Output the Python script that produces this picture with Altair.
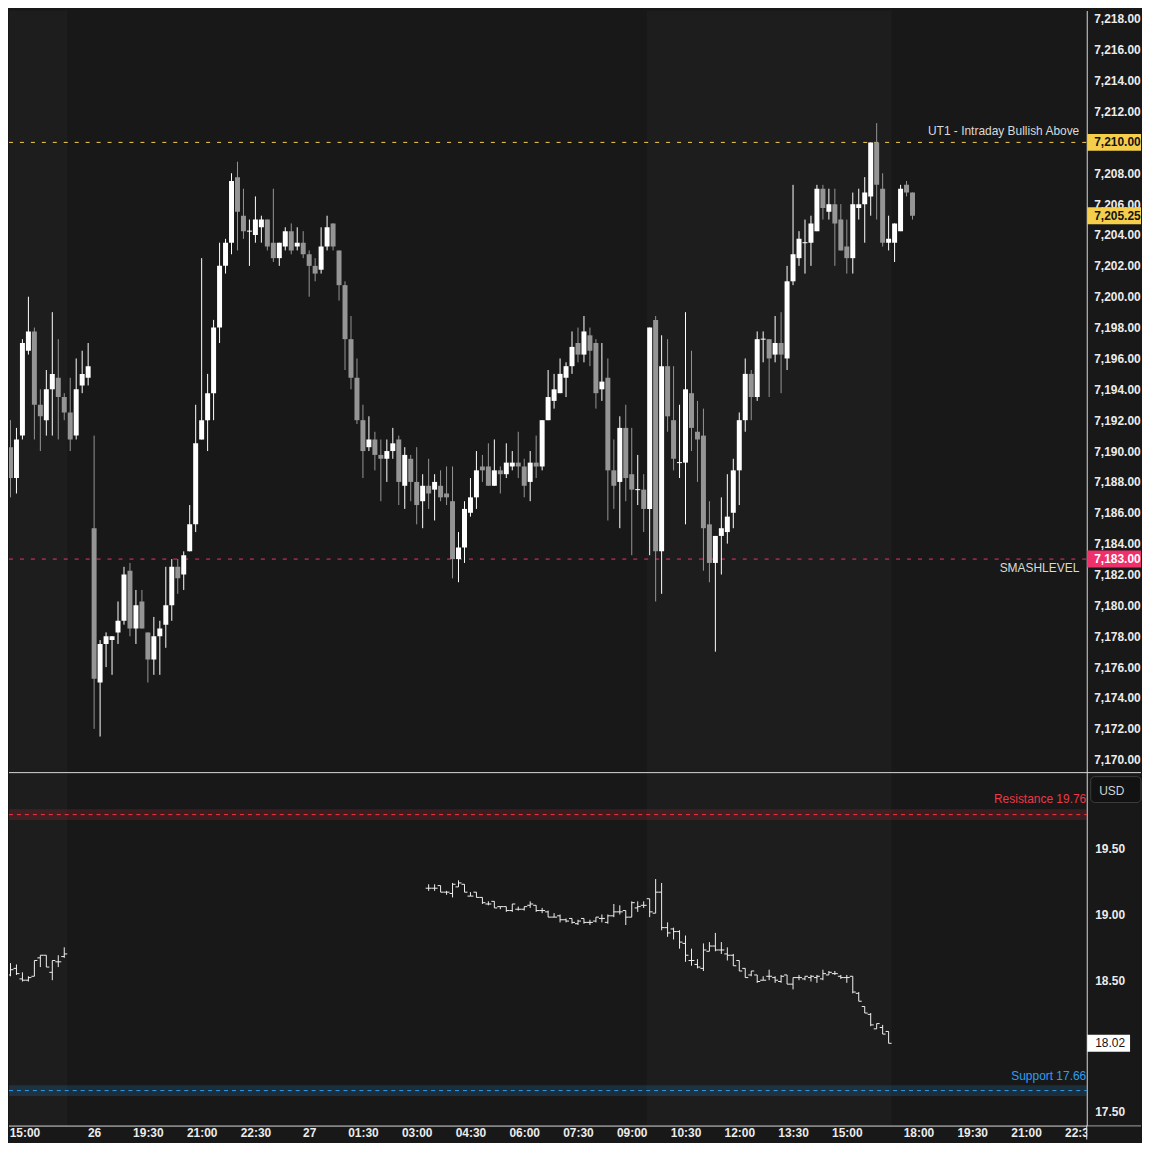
import altair as alt
import pandas as pd

# ---------------- data: 10-minute candles (index 0 = 14:30 on the 25th) ----------------
candle_open = [
    7185.5, 7190.25, 7188.25, 7191.0, 7196.5, 7197.75, 7193.0, 7192.0, 7194.0, 7194.75,
    7193.5, 7192.5, 7191.0, 7194.25, 7194.75, 7185.0, 7175.0, 7177.5, 7177.75, 7178.25,
    7179.0, 7182.25, 7178.5, 7180.25, 7178.25, 7176.5, 7178.0, 7178.75, 7180.0, 7182.5,
    7182.0, 7183.5, 7185.25, 7190.75, 7192.0, 7193.75, 7198.0, 7202.0, 7203.5, 7207.75,
    7205.25, 7204.25, 7204.0, 7204.5, 7205.0, 7203.5, 7202.5, 7203.25, 7204.25, 7203.25,
    7203.5, 7202.75, 7202.0, 7201.75, 7203.25, 7204.75, 7203.0, 7200.75, 7197.25, 7194.75,
    7192.0, 7190.25, 7190.75, 7189.75, 7189.5, 7190.0, 7190.75, 7187.75, 7189.5, 7188.0,
    7186.75, 7187.75, 7187.5, 7187.75, 7187.25, 7186.75, 7183.0, 7183.75, 7186.0, 7187.0,
    7189.0, 7189.0, 7187.75, 7188.75, 7188.5, 7189.0, 7189.25, 7189.0, 7188.0, 7189.25,
    7189.0, 7192.0, 7193.25, 7193.75, 7194.75, 7195.5, 7197.0, 7196.25, 7197.5, 7197.0,
    7194.0, 7194.75, 7188.75, 7188.0, 7191.5, 7188.5, 7187.5, 7187.5, 7186.25, 7198.5,
    7183.5, 7195.5, 7192.0, 7189.25, 7189.25, 7193.75, 7191.25, 7191.0, 7185.25, 7182.75,
    7184.5, 7184.75, 7186.0, 7188.75, 7192.0, 7195.0, 7193.5, 7197.25, 7197.25, 7196.25,
    7197.0, 7196.0, 7201.0, 7202.5, 7203.5, 7203.5, 7204.25, 7207.0, 7205.5, 7206.0,
    7205.0, 7203.25, 7202.5, 7205.75, 7206.0, 7206.5, 7210.0, 7207.0, 7203.5, 7203.5,
    7204.25, 7207.25, 7206.75,
]
candle_high = [
    7191.5, 7192.0, 7191.5, 7197.25, 7200.0, 7198.0, 7194.0, 7195.25, 7199.0, 7197.25,
    7193.75, 7194.75, 7196.0, 7196.5, 7197.0, 7191.0, 7177.75, 7178.25, 7178.0, 7180.25,
    7182.5, 7182.75, 7181.0, 7181.0, 7178.25, 7179.25, 7179.0, 7182.5, 7183.0, 7183.0,
    7183.5, 7186.5, 7193.0, 7202.5, 7195.0, 7198.5, 7203.5, 7203.75, 7208.0, 7208.75,
    7207.0, 7205.0, 7206.5, 7205.25, 7205.0, 7207.0, 7203.5, 7204.5, 7204.75, 7204.5,
    7204.25, 7203.0, 7202.5, 7204.5, 7205.25, 7204.75, 7203.0, 7201.0, 7198.75, 7196.0,
    7193.0, 7192.25, 7191.25, 7190.75, 7190.75, 7191.5, 7191.0, 7190.25, 7189.75, 7190.25,
    7188.5, 7189.5, 7188.5, 7188.75, 7189.0, 7189.0, 7184.75, 7186.75, 7188.25, 7190.0,
    7189.75, 7190.5, 7190.75, 7189.0, 7190.5, 7190.0, 7191.25, 7189.5, 7190.0, 7191.0,
    7192.0, 7195.25, 7195.0, 7196.0, 7195.75, 7197.75, 7198.0, 7198.75, 7198.0, 7197.25,
    7197.0, 7196.0, 7190.75, 7192.25, 7193.0, 7191.5, 7189.75, 7188.5, 7198.0, 7198.75,
    7197.5, 7197.25, 7195.5, 7193.0, 7199.0, 7196.5, 7193.25, 7192.75, 7186.75, 7184.5,
    7187.0, 7188.5, 7189.5, 7192.5, 7196.0, 7195.25, 7197.75, 7197.75, 7197.25, 7198.75,
    7199.0, 7202.0, 7207.25, 7204.25, 7205.0, 7205.25, 7207.25, 7207.25, 7207.0, 7207.0,
    7206.0, 7205.0, 7206.75, 7207.0, 7207.75, 7210.0, 7211.25, 7208.0, 7205.25, 7204.75,
    7207.25, 7207.5, 7206.75,
]
candle_low = [
    7185.25, 7187.0, 7187.25, 7190.75, 7196.25, 7190.75, 7190.0, 7191.0, 7191.0, 7190.75,
    7192.0, 7190.0, 7190.75, 7193.75, 7194.25, 7172.0, 7171.5, 7176.0, 7175.5, 7177.5,
    7178.75, 7178.0, 7177.5, 7178.5, 7175.0, 7175.5, 7175.5, 7177.25, 7179.0, 7180.75,
    7181.0, 7183.5, 7184.75, 7190.75, 7190.0, 7192.0, 7197.0, 7201.5, 7202.75, 7203.0,
    7203.75, 7202.0, 7203.5, 7203.5, 7203.0, 7202.25, 7202.0, 7203.0, 7202.75, 7203.0,
    7202.5, 7200.0, 7201.0, 7201.5, 7203.0, 7203.0, 7199.75, 7195.25, 7194.0, 7191.75,
    7188.25, 7190.0, 7188.75, 7186.75, 7188.0, 7189.5, 7186.5, 7186.25, 7186.75, 7185.25,
    7185.0, 7186.25, 7185.5, 7186.75, 7186.5, 7181.75, 7181.5, 7182.75, 7185.75, 7186.25,
    7188.0, 7187.75, 7187.75, 7187.25, 7188.25, 7188.75, 7188.25, 7187.0, 7186.75, 7188.25,
    7188.75, 7192.0, 7192.75, 7193.75, 7193.5, 7195.0, 7195.75, 7195.75, 7195.5, 7192.75,
    7193.25, 7185.5, 7186.25, 7185.0, 7186.75, 7183.25, 7186.5, 7184.75, 7183.25, 7180.25,
    7180.75, 7191.25, 7188.75, 7188.25, 7185.25, 7190.0, 7188.0, 7182.25, 7181.5, 7177.0,
    7182.0, 7184.0, 7185.0, 7186.5, 7191.25, 7192.0, 7193.25, 7195.75, 7193.5, 7195.75,
    7193.75, 7195.25, 7200.75, 7202.0, 7201.5, 7202.0, 7204.25, 7205.0, 7205.0, 7202.0,
    7203.0, 7201.5, 7201.5, 7205.0, 7203.5, 7205.25, 7205.0, 7203.25, 7203.0, 7202.25,
    7204.25, 7206.5, 7205.0,
]
candle_close = [
    7190.0, 7188.25, 7190.75, 7197.0, 7197.75, 7193.0, 7192.25, 7194.0, 7195.0, 7193.5,
    7192.5, 7190.75, 7194.0, 7195.0, 7195.5, 7175.25, 7177.5, 7178.0, 7178.0, 7179.0,
    7182.0, 7178.5, 7180.0, 7178.5, 7176.5, 7178.0, 7178.5, 7180.0, 7182.5, 7181.75,
    7183.25, 7185.25, 7190.5, 7192.0, 7193.75, 7198.0, 7202.0, 7203.5, 7207.5, 7205.5,
    7204.25, 7204.25, 7205.0, 7205.0, 7203.25, 7202.5, 7203.5, 7204.25, 7203.0, 7203.5,
    7202.75, 7202.0, 7201.5, 7203.25, 7204.5, 7203.25, 7200.75, 7197.25, 7194.75, 7192.0,
    7190.0, 7190.75, 7189.75, 7189.5, 7190.0, 7190.5, 7188.0, 7189.75, 7188.0, 7186.5,
    7187.75, 7187.25, 7188.0, 7187.0, 7187.0, 7183.0, 7183.75, 7186.25, 7187.0, 7188.75,
    7188.75, 7187.75, 7188.75, 7188.5, 7189.25, 7189.25, 7189.0, 7187.75, 7189.25, 7189.0,
    7192.0, 7193.5, 7194.0, 7195.0, 7195.5, 7196.75, 7196.25, 7197.75, 7196.5, 7193.75,
    7194.5, 7188.75, 7187.75, 7191.5, 7188.25, 7187.5, 7187.5, 7186.25, 7198.0, 7183.5,
    7195.5, 7192.25, 7189.5, 7189.25, 7194.0, 7191.5, 7190.75, 7185.0, 7182.75, 7184.5,
    7185.0, 7185.75, 7188.75, 7192.0, 7195.0, 7193.5, 7197.25, 7197.25, 7196.0, 7197.0,
    7196.25, 7201.0, 7202.75, 7203.75, 7203.5, 7204.75, 7207.0, 7205.75, 7206.0, 7204.75,
    7203.0, 7202.5, 7206.0, 7206.0, 7206.75, 7210.0, 7207.25, 7203.5, 7203.75, 7204.75,
    7207.0, 7206.75, 7205.25,
]

# ---------------- data: lower pane OHLC bars ----------------
ind_index = list(range(0, 11)) + list(range(71, 149))
ind_open = [
    18.57, 18.54, 18.59, 18.51, 18.50, 18.53, 18.67, 18.69, 18.56, 18.64, 18.68,
    19.20, 19.20, 19.22, 19.17, 19.16, 19.21, 19.23, 19.14, 19.17, 19.13,
    19.08, 19.10, 19.06, 19.06, 19.03, 19.04, 19.04, 19.07, 19.07, 19.03,
    19.02, 18.98, 18.99, 18.96, 18.97, 18.93, 18.97, 18.94, 18.95, 18.97,
    18.94, 18.99, 19.02, 19.03, 18.98, 19.05, 19.07, 19.12, 19.01, 19.17,
    18.90, 18.89, 18.87, 18.78, 18.65, 18.62, 18.59, 18.72, 18.76, 18.73,
    18.70, 18.69, 18.65, 18.59, 18.54, 18.54, 18.50, 18.53, 18.52, 18.49,
    18.54, 18.47, 18.52, 18.51, 18.52, 18.52, 18.51, 18.54, 18.55, 18.53,
    18.52, 18.53, 18.40, 18.30, 18.24, 18.13, 18.14, 18.11,
]
ind_high = [
    18.58, 18.63, 18.62, 18.56, 18.53, 18.65, 18.69, 18.69, 18.65, 18.69, 18.75,
    19.23, 19.23, 19.22, 19.18, 19.24, 19.26, 19.23, 19.17, 19.17, 19.13,
    19.10, 19.10, 19.06, 19.06, 19.08, 19.06, 19.06, 19.10, 19.07, 19.05,
    19.03, 19.01, 19.00, 18.97, 18.97, 18.96, 18.97, 18.96, 18.98, 19.00,
    19.00, 19.08, 19.07, 19.03, 19.10, 19.10, 19.10, 19.12, 19.27, 19.24,
    18.94, 18.90, 18.88, 18.84, 18.74, 18.66, 18.78, 18.79, 18.86, 18.79,
    18.75, 18.70, 18.65, 18.59, 18.57, 18.54, 18.53, 18.58, 18.53, 18.54,
    18.54, 18.52, 18.54, 18.53, 18.54, 18.54, 18.58, 18.57, 18.57, 18.54,
    18.54, 18.53, 18.41, 18.30, 18.25, 18.17, 18.16, 18.11,
]
ind_low = [
    18.53, 18.53, 18.54, 18.49, 18.49, 18.53, 18.60, 18.60, 18.50, 18.60, 18.67,
    19.18, 19.18, 19.17, 19.15, 19.13, 19.21, 19.17, 19.14, 19.13, 19.08,
    19.07, 19.05, 19.04, 19.02, 19.02, 19.03, 19.03, 19.05, 19.02, 19.01,
    18.98, 18.98, 18.94, 18.94, 18.93, 18.92, 18.93, 18.92, 18.94, 18.94,
    18.93, 18.98, 19.00, 18.92, 18.98, 19.02, 19.05, 18.98, 19.01, 18.88,
    18.83, 18.81, 18.74, 18.64, 18.61, 18.59, 18.57, 18.72, 18.72, 18.70,
    18.65, 18.61, 18.57, 18.52, 18.53, 18.48, 18.50, 18.50, 18.48, 18.48,
    18.47, 18.43, 18.50, 18.50, 18.49, 18.48, 18.50, 18.54, 18.54, 18.51,
    18.48, 18.40, 18.34, 18.25, 18.15, 18.13, 18.09, 18.02,
]
ind_close = [
    18.57, 18.58, 18.55, 18.50, 18.52, 18.65, 18.69, 18.60, 18.65, 18.64, 18.70,
    19.20, 19.20, 19.17, 19.17, 19.23, 19.24, 19.17, 19.14, 19.13, 19.09,
    19.08, 19.05, 19.06, 19.03, 19.08, 19.04, 19.06, 19.08, 19.03, 19.03,
    18.98, 18.98, 18.96, 18.95, 18.94, 18.95, 18.94, 18.94, 18.98, 18.97,
    18.99, 19.02, 19.02, 18.98, 19.09, 19.06, 19.07, 19.02, 19.17, 18.90,
    18.86, 18.87, 18.79, 18.69, 18.65, 18.60, 18.73, 18.76, 18.73, 18.73,
    18.69, 18.61, 18.57, 18.52, 18.57, 18.49, 18.50, 18.53, 18.50, 18.53,
    18.47, 18.52, 18.52, 18.53, 18.53, 18.53, 18.55, 18.56, 18.55, 18.52,
    18.52, 18.41, 18.34, 18.25, 18.16, 18.17, 18.09, 18.02,
]

# ---------------- levels, sessions, ticks ----------------
top_level_names = ["UT1 - Intraday Bullish Above", "SMASHLEVEL"]
top_level_prices = [7210.0, 7183.0]
top_level_colors = ["#f5cf4c", "#f0306a"]
top_level_dy = [-11, 9]

bot_level_names = ["Resistance", "Support"]
bot_level_values = [19.76, 17.66]
bot_level_colors = ["#f23645", "#2c9ff0"]
bot_level_dy = [-16, -15]

session_start = [-1.0, 107.5]   # regular-session shading, in candle-index units
session_end = [10.5, 148.5]

price_ticks = [7170 + 2 * k for k in range(25)]
ind_ticks = [17.5, 18.5, 19.0, 19.5]
tick_index = [3, 15, 24, 33, 42, 51, 60, 69, 78, 87, 96, 105, 114, 123, 132, 141, 153, 162, 171, 180]
tick_text = ["15:00", "26", "19:30", "21:00", "22:30", "27", "01:30", "03:00", "04:30", "06:00",
             "07:30", "09:00", "10:30", "12:00", "13:30", "15:00", "18:00", "19:30", "21:00", "22:30"]

# ---------------- layout / style ----------------
W, TOP_H, BOT_H = 1134, 765, 355
AX = 1082.5
BG, SHADE = "#181818", "#1d1d1d"
UP, DOWN, BAR = "#ffffff", "#959595", "#f0f0f0"
LINE = "#dadada"
TXT = "#ececec"
FONT = "Liberation Sans"
AXW = "bold"

xs = alt.Scale(domain=[0.75, 189.75], nice=False, zero=False)
ys_top = alt.Scale(domain=[7169.194, 7218.548], nice=False, zero=False)
ys_bot = alt.Scale(domain=[17.3939, 20.0833], nice=False, zero=False)

cdf = pd.DataFrame({"i": list(range(len(candle_open))), "open": candle_open,
                    "high": candle_high, "low": candle_low, "close": candle_close})
idf = pd.DataFrame({"i": ind_index, "open": ind_open, "high": ind_high,
                    "low": ind_low, "close": ind_close})
sdf = pd.DataFrame({"start": session_start, "end": session_end})
one = pd.DataFrame({"k": [0]})

top_x_axis = alt.Axis(labels=False, ticks=False, domain=False, grid=False, title=None)
top_y_axis = alt.Axis(orient="right", offset=AX - W, values=price_ticks, format=",.2f",
                      ticks=False, tickSize=0, labelPadding=7, domainColor=LINE,
                      labelColor=TXT, labelFont=FONT, labelFontSize=12, labelFontWeight=AXW,
                      grid=False, title=None, labelOverlap=False, labelFlush=False, zindex=0)
label_expr = "[" + ",".join("'%s'" % t for t in tick_text) + "][indexof([" + \
    ",".join(str(v) for v in tick_index) + "], datum.value)]"
bot_x_axis = alt.Axis(values=tick_index, labelExpr=label_expr, ticks=False, domain=False,
                      labelPadding=2, labelColor=TXT, labelFont=FONT, labelFontSize=12,
                      labelFontWeight=AXW, labelFlush=False, labelOverlap=False, grid=False,
                      title=None,
                      labelOffset={"condition": {"test": "datum.value == 3", "value": 2}, "value": 0},
                      zindex=0)
bot_y_axis = alt.Axis(orient="right", offset=AX - W, values=ind_ticks, format=".2f",
                      ticks=False, tickSize=0, labelPadding=8, domainColor=LINE,
                      labelColor=TXT, labelFont=FONT, labelFontSize=12, labelFontWeight=AXW,
                      grid=False, title=None, labelOverlap=False, labelFlush=False, zindex=0)


def TX(f):
    return alt.X(f, type="quantitative", scale=xs, axis=top_x_axis, title=None)


def TY(f):
    return alt.Y(f, type="quantitative", scale=ys_top, axis=top_y_axis, title=None)


def BX(f):
    return alt.X(f, type="quantitative", scale=xs, axis=bot_x_axis, title=None)


def BY(f):
    return alt.Y(f, type="quantitative", scale=ys_bot, axis=bot_y_axis, title=None)


# ---------------- top pane ----------------
shade_top = alt.Chart(sdf).mark_rect(color=SHADE, clip=True).encode(
    x=TX("start"), x2="end", y=alt.value(0), y2=alt.value(TOP_H))

lev_top = pd.DataFrame({"price": top_level_prices, "color": top_level_colors,
                        "name": top_level_names})
lev_rules = alt.Chart(lev_top).mark_rule(strokeDash=[4, 7], strokeWidth=1).encode(
    x=alt.value(0), x2=alt.value(AX), y=TY("price"), color=alt.Color("color:N", scale=None))
lev_texts = [
    alt.Chart(lev_top.iloc[[k]]).mark_text(align="right", baseline="middle", dy=top_level_dy[k],
                                           font=FONT, fontSize=12, color="#dadada").encode(
        x=alt.value(AX - 7.5), y=TY("price"), text="name:N")
    for k in range(len(top_level_names))
]

cond = alt.condition("datum.close >= datum.open", alt.value(UP), alt.value(DOWN))
cbase = alt.Chart(cdf)
wicks = cbase.mark_rule(strokeWidth=1, clip=True).encode(
    x=TX("i"), y=TY("low"), y2="high", color=cond)
bodies = cbase.transform_calculate(x0="datum.i - 0.41667", x1="datum.i + 0.41667").mark_rect(
    clip=True).encode(x=TX("x0"), x2="x1", y=TY("open"), y2="close", color=cond)
dojis = cbase.transform_filter("datum.open == datum.close").transform_calculate(
    x0="datum.i - 0.41667", x1="datum.i + 0.41667").mark_rule(clip=True, strokeWidth=1).encode(
    x=TX("x0"), x2="x1", y=TY("open"), color=cond)

box_df = pd.DataFrame({"price": [top_level_prices[0], candle_close[-1], top_level_prices[1]],
                       "fill": ["#f5cf4c", "#f5cf4c", "#f0306a"],
                       "ink": ["#141414", "#141414", "#ffffff"]})
box_rect = alt.Chart(box_df).mark_rect(yOffset=-8.5, y2Offset=8.5).encode(
    x=alt.value(AX + 0.5), x2=alt.value(W + 3), y=TY("price"), y2="price",
    color=alt.Color("fill:N", scale=None))
box_text = alt.Chart(box_df).mark_text(align="left", baseline="middle", font=FONT,
                                       fontSize=12, fontWeight=AXW).encode(
    x=alt.value(AX + 7.5), y=TY("price"), text=alt.Text("price:Q", format=",.2f"),
    color=alt.Color("ink:N", scale=None))

top = alt.layer(shade_top, lev_rules, *lev_texts, wicks, bodies, dojis, box_rect, box_text).properties(
    width=W, height=TOP_H)

# ---------------- bottom pane ----------------
shade_bot = alt.Chart(sdf).mark_rect(color=SHADE, clip=True).encode(
    x=BX("start"), x2="end", y=alt.value(0), y2=alt.value(BOT_H))

lev_bot = pd.DataFrame({"value": bot_level_values, "color": bot_level_colors,
                        "name": bot_level_names})
bands = alt.Chart(lev_bot).mark_rect(yOffset=-5.5, y2Offset=5.5, opacity=0.16).encode(
    x=alt.value(0), x2=alt.value(AX), y=BY("value"), y2="value",
    color=alt.Color("color:N", scale=None))
bot_rules = alt.Chart(lev_bot).mark_rule(strokeDash=[4, 4], strokeWidth=1).encode(
    x=alt.value(0), x2=alt.value(AX), y=BY("value"), color=alt.Color("color:N", scale=None))
bot_texts = [
    alt.Chart(lev_bot.iloc[[k]]).transform_calculate(
        label="datum.name + ' ' + format(datum.value, '.2f')").mark_text(
        align="right", baseline="middle", dy=bot_level_dy[k], font=FONT, fontSize=12).encode(
        x=alt.value(AX - 0.5), y=BY("value"), text="label:N",
        color=alt.Color("color:N", scale=None))
    for k in range(len(bot_level_names))
]

ibase = alt.Chart(idf)
vbars = ibase.mark_rule(strokeWidth=1, clip=True, color=BAR).encode(
    x=BX("i"), y=BY("low"), y2="high")
oticks = ibase.transform_calculate(xl="datum.i - 0.5").mark_rule(
    strokeWidth=1, clip=True, color=BAR).encode(x=BX("xl"), x2="i", y=BY("open"))
cticks = ibase.transform_calculate(xr="datum.i + 0.5").mark_rule(
    strokeWidth=1, clip=True, color=BAR).encode(x=BX("i"), x2="xr", y=BY("close"))

last_df = pd.DataFrame({"value": [ind_close[-1]]})
last_box = alt.Chart(last_df).mark_rect(yOffset=-8.5, y2Offset=8.5, color="#ffffff").encode(
    x=alt.value(AX + 0.5), x2=alt.value(AX + 43.5), y=BY("value"), y2="value")
last_text = alt.Chart(last_df).mark_text(align="left", baseline="middle", font=FONT,
                                         fontSize=12, color="#141414").encode(
    x=alt.value(AX + 8.5), y=BY("value"), text=alt.Text("value:Q", format=".2f"))

usd_box = alt.Chart(one).mark_rect(fill="#121212", stroke="#3c3c3c", strokeWidth=1,
                                   cornerRadius=4).encode(
    x=alt.value(AX + 4), x2=alt.value(W + 3), y=alt.value(4.5), y2=alt.value(30.5))
usd_text = alt.Chart(pd.DataFrame({"t": ["USD"]})).mark_text(
    align="left", baseline="middle", font=FONT, fontSize=12, color="#d4d4d4").encode(
    x=alt.value(AX + 12.5), y=alt.value(18.5), text="t:N")

top_line = alt.Chart(one).mark_rule(color=LINE, strokeWidth=1).encode(
    x=alt.value(0), x2=alt.value(W + 3), y=alt.value(0.5))
bottom_line = alt.Chart(one).mark_rule(color=LINE, strokeWidth=1).encode(
    x=alt.value(0), x2=alt.value(W + 3), y=alt.value(BOT_H + 0.5))
axis_cover = alt.Chart(one).mark_rect(color=BG).encode(
    x=alt.value(AX + 0.5), x2=alt.value(W + 3), y=alt.value(BOT_H + 1), y2=alt.value(BOT_H + 14))
axis_tail = alt.Chart(one).mark_rule(color=LINE, strokeWidth=1).encode(
    x=alt.value(AX), y=alt.value(BOT_H), y2=alt.value(BOT_H + 14))

bottom = alt.layer(shade_bot, bands, bot_rules, *bot_texts, vbars, oticks, cticks,
                   last_box, last_text, usd_box, usd_text, top_line, bottom_line, axis_cover,
                   axis_tail).properties(width=W, height=BOT_H)

chart = alt.vconcat(top, bottom, spacing=0, bounds="flush").resolve_scale(
    x="independent", y="independent").properties(padding=0).configure(
    background=BG).configure_view(stroke=None)

chart.save("out.html", embed_options={"renderer": "svg", "actions": False})
